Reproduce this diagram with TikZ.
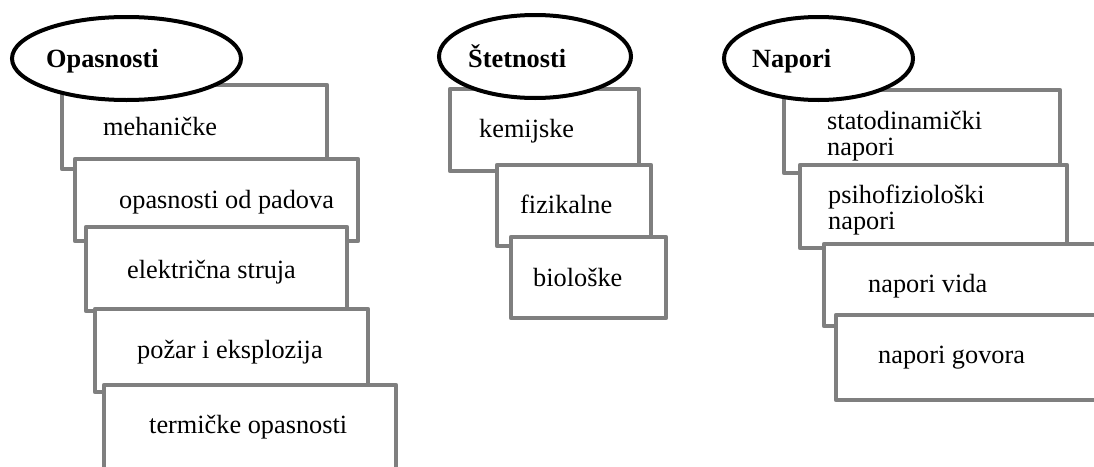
\documentclass[tikz,border=0pt]{standalone}
\usepackage{fontspec}
\setmainfont{Liberation Serif}
\usetikzlibrary{shapes.geometric}
\definecolor{boxgray}{RGB}{127,127,127}
\tikzset{
    box/.style={draw=boxgray, line width=4.5pt, fill=white, line join=round},
    head/.style={draw=black, line width=4pt, fill=white, ellipse, inner sep=0pt},
    lbl/.style={anchor=base west, inner sep=0pt, align=left, font=\fontsize{26.3}{26}\selectfont},
    ttl/.style={lbl, font=\fontsize{26.3}{26}\selectfont\bfseries},
}
\begin{document}
\begin{tikzpicture}[x=1pt, y=-1pt]
    % Frame
    \useasboundingbox (0, 0) rectangle (1094, 466);
    \clip (0, 0) rectangle (1094, 466);
    % Opasnosti
    \draw[box] (62, 85) rectangle (327, 169);
    \node[lbl] (meh) at (103, 135) {mehaničke};
    \draw[box] (75, 159) rectangle (358, 241);
    \node[lbl] (pad) at (119, 208) {opasnosti od padova};
    \draw[box] (86, 227) rectangle (347, 311);
    \node[lbl] (ele) at (127, 278) {električna struja};
    \draw[box] (95, 309) rectangle (368, 392);
    \node[lbl] (poz) at (137, 358) {požar i eksplozija};
    \draw[box] (104, 385) rectangle (396, 490);
    \node[lbl] (ter) at (149, 433) {termičke opasnosti};
    \node[head, minimum width=229pt, minimum height=83pt] (opasE) at (126.5, 58.5) {};
    \node[ttl] (opas) at (46, 67) {Opasnosti};
    % Štetnosti
    \draw[box] (450, 89) rectangle (639, 171);
    \node[lbl] (kem) at (479, 137) {kemijske};
    \draw[box] (497, 165) rectangle (651, 246);
    \node[lbl] (fiz) at (520, 213) {fizikalne};
    \draw[box] (511, 237) rectangle (666, 318);
    \node[lbl] (bio) at (533, 286) {biološke};
    \node[head, minimum width=192pt, minimum height=83pt] (stetE) at (535, 56.5) {};
    \node[ttl] (stet) at (468, 67) {Štetnosti};
    % Napori
    \draw[box] (784, 90) rectangle (1060, 173);
    \node[lbl] (stat) at (827, 155) {statodinamički\\napori};
    \draw[box] (800, 165) rectangle (1067, 248);
    \node[lbl] (psih) at (828, 229) {psihofiziološki\\napori};
    \draw[box] (824, 244) rectangle (1120, 326);
    \node[lbl] (vid) at (868, 292) {napori vida};
    \draw[box] (836, 315) rectangle (1120, 400);
    \node[lbl] (gov) at (878, 363) {napori govora};
    \node[head, minimum width=189pt, minimum height=83pt] (napE) at (818.5, 58.5) {};
    \node[ttl] (nap) at (752, 67) {Napori};
\end{tikzpicture}
\end{document}
